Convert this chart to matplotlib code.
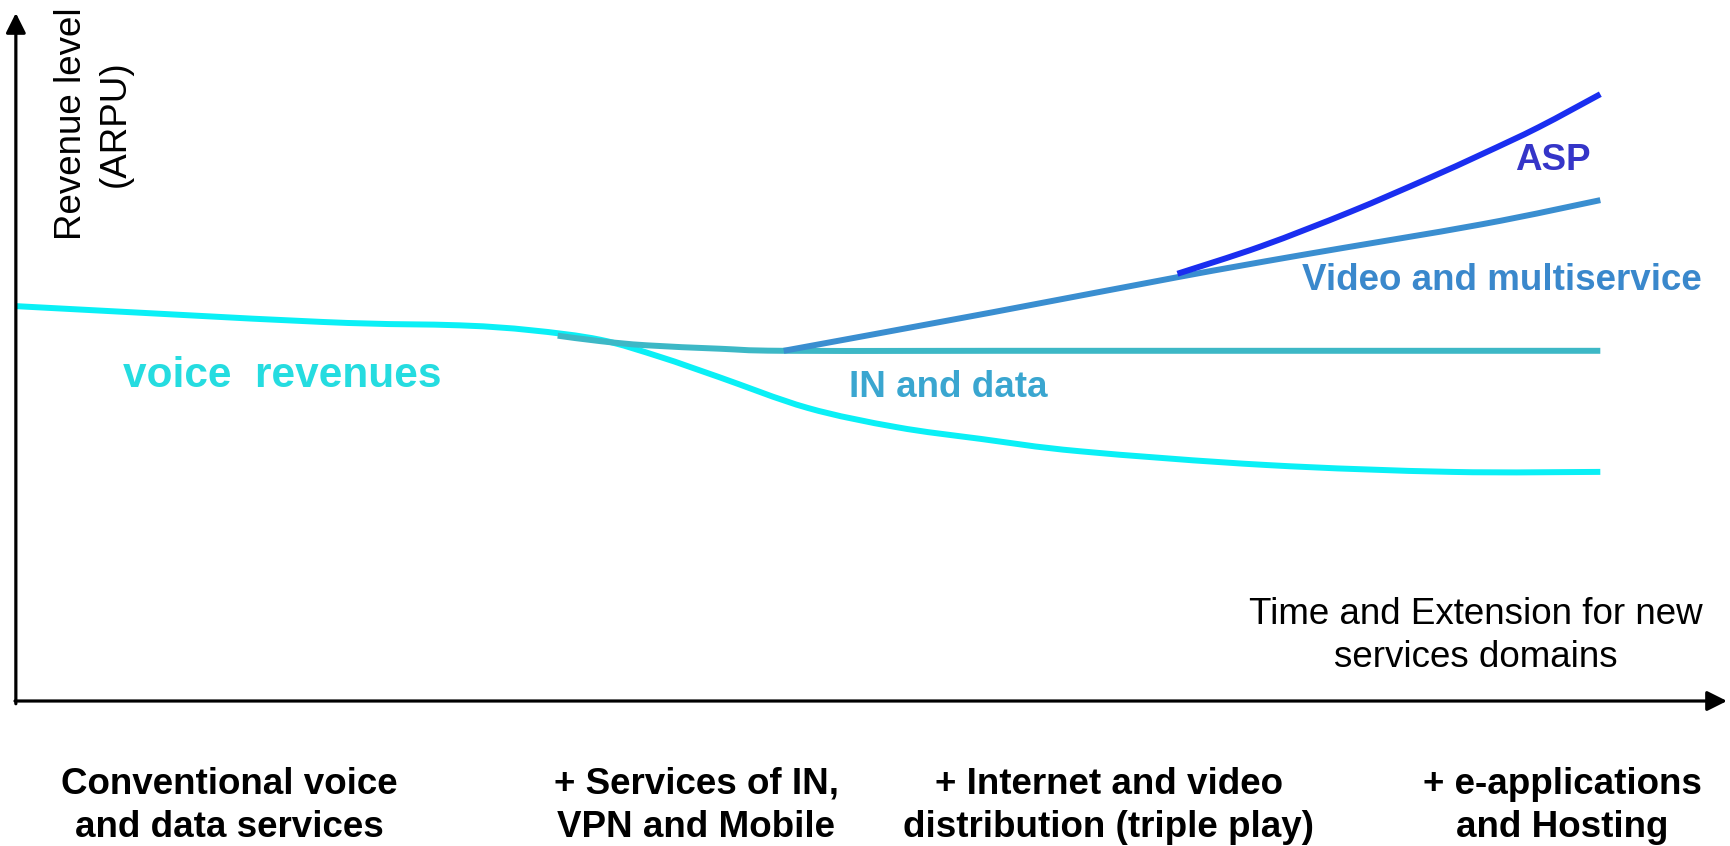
import matplotlib
matplotlib.use("Agg")
import matplotlib.pyplot as plt
from matplotlib.path import Path
from matplotlib.patches import PathPatch

plt.rcParams["font.family"] = ["Liberation Sans", "DejaVu Sans"]

# Revenue curves (time vs. revenue level, arbitrary units 0-100)
voice_t = [0.0, 17.9, 26.0, 30.1, 34.2, 37.7, 41.1, 46.3, 51.5, 56.4, 62.2, 73.1, 83.9, 92.6]
voice_r = [57.4, 55.1, 54.6, 53.9, 52.5, 50.0, 47.1, 42.6, 39.8, 38.1, 36.3, 34.3, 33.3, 33.3]

in_t = [31.7, 34.2, 36.9, 41.2, 44.9, 57.5, 92.6]
in_r = [53.1, 52.3, 51.7, 51.2, 50.9, 50.9, 50.9]

video_t = [44.9, 57.1, 67.9, 75.1, 85.7, 92.6]
video_r = [50.9, 56.5, 61.6, 64.8, 69.3, 72.8]

asp_t = [67.9, 72.8, 78.0, 82.5, 85.7, 89.0, 92.6]
asp_r = [62.1, 66.1, 71.1, 75.9, 79.5, 83.4, 88.2]

stage_labels = [
    "Conventional voice\nand data services",
    "+ Services of IN,\nVPN and Mobile",
    "+ Internet and video\ndistribution (triple play)",
    "+ e-applications\nand Hosting",
]
stage_pos = [12.5, 39.8, 63.9, 90.4]


def smooth_curve(xs, ys):
    """Cubic Bezier path passing through every point (Catmull-Rom tangents)."""
    pts = list(zip(xs, ys))
    n = len(pts)
    verts = [pts[0]]
    codes = [Path.MOVETO]
    for i in range(n - 1):
        p0 = pts[i - 1] if i > 0 else pts[i]
        p1 = pts[i]
        p2 = pts[i + 1]
        p3 = pts[i + 2] if i + 2 < n else pts[i + 1]
        c1 = (p1[0] + (p2[0] - p0[0]) / 6, p1[1] + (p2[1] - p0[1]) / 6)
        c2 = (p2[0] - (p3[0] - p1[0]) / 6, p2[1] - (p3[1] - p1[1]) / 6)
        verts += [c1, c2, p2]
        codes += [Path.CURVE4] * 3
    return Path(verts, codes)


fig = plt.figure(figsize=(17.3, 8.46), dpi=100)
ax = fig.add_axes([15 / 1730, 145 / 846, 1712 / 1730, 688 / 846])
ax.set_xlim(0, 100)
ax.set_ylim(0, 100)
ax.axis("off")

lw = 4.3
series = [
    (voice_t, voice_r, "#0AF0F6", 2),
    (in_t, in_r, "#3DB8C6", 3),
    (video_t, video_r, "#3A8ED0", 3),
    (asp_t, asp_r, "#1A2EF0", 4),
]
for xs, ys, col, z in series:
    ax.add_patch(PathPatch(smooth_curve(xs, ys), fill=False, edgecolor=col, lw=lw,
                           capstyle="butt", joinstyle="round", zorder=z))

# Axes drawn as arrows
arrow = dict(arrowstyle="-|>,head_length=0.4,head_width=0.2", color="black",
             lw=2.3, mutation_scale=30, shrinkA=0, shrinkB=0)
ax.annotate("", xy=(0.05, 100), xytext=(0.05, -0.4), arrowprops=arrow, annotation_clip=False)
ax.annotate("", xy=(100, 0), xytext=(0.0, 0), arrowprops=arrow, annotation_clip=False)

# Curve labels
ax.text(6.3, 45.6, "voice  revenues", color="#25DCE0", fontsize=30.5, fontweight="bold",
        ha="left", va="baseline")
ax.text(48.7, 44.2, "IN and data", color="#3AA6D0", fontsize=26.5, fontweight="bold",
        ha="left", va="baseline")
ax.text(75.2, 59.7, "Video and multiservice", color="#3A88CC", fontsize=26.5, fontweight="bold",
        ha="left", va="baseline")
ax.text(87.6, 77.2, "ASP", color="#3535C8", fontsize=26.5, fontweight="bold",
        ha="left", va="baseline")

# Axis titles
ax.text(4.6, 83.9, "Revenue level\n(ARPU)", rotation=90, fontsize=26.5,
        ha="center", va="center", multialignment="center", linespacing=1.32)
ax.text(85.3, 4.9, "Time and Extension for new\nservices domains", fontsize=26.5,
        ha="center", va="baseline", multialignment="center", linespacing=1.32)

# Service stages along the time axis
for pos, lab in zip(stage_pos, stage_labels):
    ax.text(pos, -19.8, lab, fontsize=26.5, fontweight="bold", ha="center",
            va="baseline", multialignment="center", linespacing=1.32, clip_on=False)

fig.savefig("out.png", dpi=100)
